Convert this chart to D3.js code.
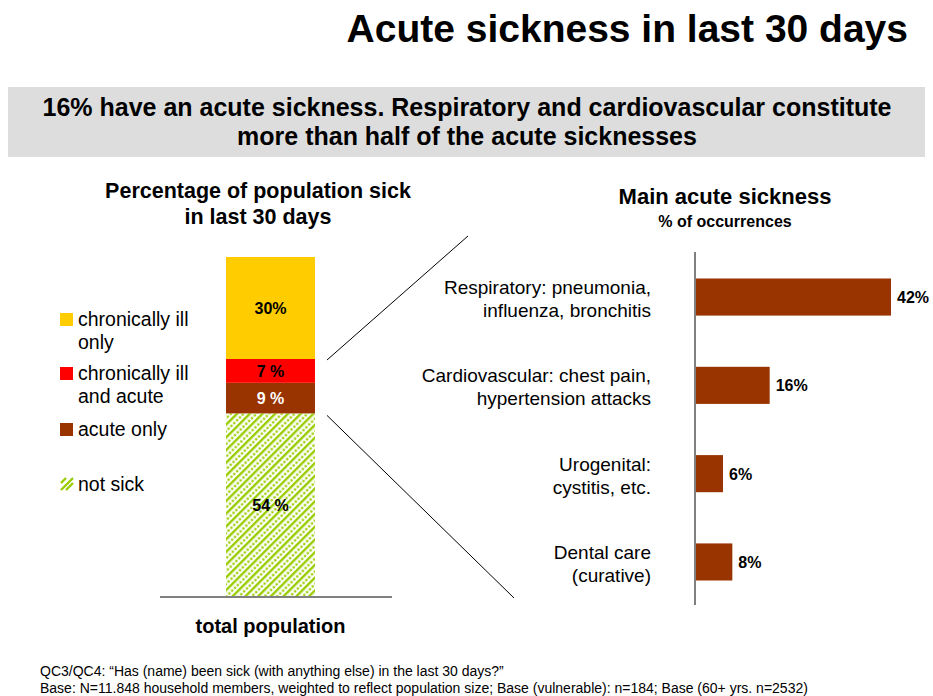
<!DOCTYPE html>
<html>
<head>
<meta charset="utf-8">
<script src="https://cdn.jsdelivr.net/npm/d3@7"></script>
<style>
  html, body { margin: 0; padding: 0; background: #fff; }
  svg { display: block; }
  text { font-family: "Liberation Sans", Arial, Helvetica, sans-serif; }
</style>
</head>
<body>
<svg id="chart" width="933" height="696"></svg>
<script>
// Share of the total population by sickness status (stacked bar, bottom to top)
const statusKeys   = ["not sick", "acute only", "chronically ill and acute", "chronically ill only"];
const statusValues = [54, 9, 7, 30];
const statusLabels = ["54 %", "9 %", "7 %", "30%"];
const statusColors = ["url(#notSick)", "#993300", "#FF0000", "#FFCC00"];
const statusTextColors = ["#000", "#fff", "#000", "#000"];

// Legend entries, top to bottom
const legendKeys  = ["chronically ill only", "chronically ill and acute", "acute only", "not sick"];
const legendLines = [["chronically ill", "only"], ["chronically ill", "and acute"], ["acute only"], ["not sick"]];

// Main acute sickness, % of occurrences
const sicknessCategories = ["Respiratory", "Cardiovascular", "Urogenital", "Dental"];
const sicknessLines = [
  ["Respiratory: pneumonia,", "influenza, bronchitis"],
  ["Cardiovascular: chest pain,", "hypertension attacks"],
  ["Urogenital:", "cystitis, etc."],
  ["Dental care", "(curative)"]
];
const sicknessValues = [42, 16, 6, 8];
const sicknessLabels = ["42%", "16%", "6%", "8%"];

const svg = d3.select("#chart");

// Striped fill for the "not sick" segment: solid stripes alternating with dotted stripes
const defs = svg.append("defs");
const pat = defs.append("pattern")
  .attr("id", "notSick")
  .attr("patternUnits", "userSpaceOnUse")
  .attr("width", 9).attr("height", 8)
  .attr("patternTransform", "rotate(45)");
pat.append("rect").attr("width", 9).attr("height", 8).attr("fill", "#fff");
pat.append("rect").attr("x", 0).attr("y", 0).attr("width", 2.4).attr("height", 8).attr("fill", "#99CC00");
[1.5, 5.5].forEach(cy => pat.append("circle").attr("cx", 5.8).attr("cy", cy).attr("r", 1.3).attr("fill", "#99CC00"));

// ---- Headings ----
svg.append("text")
  .attr("x", 908).attr("y", 42).attr("text-anchor", "end")
  .attr("font-size", 39).attr("font-weight", "bold")
  .text("Acute sickness in last 30 days");

svg.append("rect").attr("x", 8).attr("y", 87).attr("width", 917).attr("height", 70).attr("fill", "#DDDDDD");
const sub = svg.append("text")
  .attr("text-anchor", "middle").attr("font-size", 25).attr("font-weight", "bold");
sub.append("tspan").attr("x", 467).attr("y", 116).text("16% have an acute sickness. Respiratory and cardiovascular constitute");
sub.append("tspan").attr("x", 467).attr("y", 145).text("more than half of the acute sicknesses");

// ---- Left: stacked bar ----
const leftTitle = svg.append("text")
  .attr("text-anchor", "middle").attr("font-size", 21.5).attr("font-weight", "bold");
leftTitle.append("tspan").attr("x", 258).attr("y", 198).text("Percentage of population sick");
leftTitle.append("tspan").attr("x", 258).attr("y", 224).text("in last 30 days");

const yStack = d3.scaleLinear().domain([0, 100]).range([597, 257]);
const xStack = d3.scaleBand().domain(["total population"]).range([160, 381]).paddingInner(0).paddingOuter(0.742);

const stackData = d3.stack().keys(statusKeys)([Object.fromEntries(statusKeys.map((k, i) => [k, statusValues[i]]))]);

const segs = svg.append("g").selectAll("g").data(stackData).join("g");
segs.append("rect")
  .attr("x", xStack("total population"))
  .attr("width", xStack.bandwidth())
  .attr("y", d => yStack(d[0][1]))
  .attr("height", d => yStack(d[0][0]) - yStack(d[0][1]))
  .attr("fill", (d, i) => statusColors[i]);
segs.append("text")
  .attr("x", xStack("total population") + xStack.bandwidth() / 2)
  .attr("y", d => (yStack(d[0][0]) + yStack(d[0][1])) / 2 + 6)
  .attr("text-anchor", "middle")
  .attr("font-size", 16).attr("font-weight", "bold")
  .attr("fill", (d, i) => statusTextColors[i])
  .text((d, i) => statusLabels[i]);

// Baseline and category axis
const xAxis = svg.append("g").attr("transform", "translate(0,597)")
  .call(d3.axisBottom(xStack).tickSize(0).tickPadding(22));
xAxis.select(".domain").attr("stroke", "#808080").attr("stroke-width", 2).attr("d", "M160,0H392");
xAxis.selectAll("text").attr("font-size", 20).attr("font-weight", "bold").attr("fill", "#000")
  .attr("font-family", "Liberation Sans, Arial, sans-serif");

// Legend
const legendY = [326, 380, 436, 491];
const legendColor = d3.scaleOrdinal().domain(statusKeys).range(statusColors);
const leg = svg.append("g").selectAll("g").data(legendKeys).join("g")
  .attr("transform", (d, i) => `translate(60,${legendY[i]})`);
leg.each(function (d, i) {
  const g = d3.select(this);
  if (d === "not sick") {
    g.append("path").attr("d", "M1,-1 L13,-13 M6,-1 L13,-8 M1,-8 L6,-13")
      .attr("stroke", "#99CC00").attr("stroke-width", 2.4).attr("fill", "none");
  } else {
    g.append("rect").attr("x", 0).attr("y", -13).attr("width", 13).attr("height", 13).attr("fill", legendColor(d));
  }
  const t = g.append("text").attr("font-size", 19.5).attr("fill", "#000");
  legendLines[i].forEach((line, j) => t.append("tspan").attr("x", 18).attr("y", j * 23).text(line));
});

// Connector lines from the acute share to the breakdown
svg.append("line").attr("x1", 327).attr("y1", yStack(70) + 1).attr("x2", 468).attr("y2", 236)
  .attr("stroke", "#000").attr("stroke-width", 1);
svg.append("line").attr("x1", 327).attr("y1", yStack(54) + 2).attr("x2", 514).attr("y2", 598)
  .attr("stroke", "#000").attr("stroke-width", 1);

// ---- Right: horizontal bars ----
const rightTitle = svg.append("text").attr("text-anchor", "middle").attr("font-weight", "bold");
rightTitle.append("tspan").attr("x", 725).attr("y", 204).attr("font-size", 22).text("Main acute sickness");
rightTitle.append("tspan").attr("x", 725).attr("y", 227).attr("font-size", 16).text("% of occurrences");

const xBar = d3.scaleLinear().domain([0, 42]).range([695, 891]);
const yBar = d3.scaleBand().domain(sicknessCategories).range([252, 607]).paddingInner(0.58).paddingOuter(0.3);

svg.append("g").selectAll("rect").data(sicknessCategories).join("rect")
  .attr("x", xBar(0))
  .attr("y", d => yBar(d))
  .attr("width", (d, i) => xBar(sicknessValues[i]) - xBar(0))
  .attr("height", yBar.bandwidth())
  .attr("fill", "#993300");

svg.append("g").selectAll("text").data(sicknessCategories).join("text")
  .attr("x", (d, i) => xBar(sicknessValues[i]) + 6)
  .attr("y", d => yBar(d) + yBar.bandwidth() / 2 + 6)
  .attr("font-size", 16).attr("font-weight", "bold")
  .text((d, i) => sicknessLabels[i]);

// Category axis on the left of the bars
const yAxis = svg.append("g").attr("transform", `translate(${xBar(0)},0)`)
  .call(d3.axisLeft(yBar).tickSize(0).tickPadding(44).tickFormat(() => ""));
yAxis.select(".domain").attr("stroke", "#808080").attr("stroke-width", 2).attr("d", "M0,252V605");
yAxis.selectAll(".tick text").each(function (d, i) {
  const t = d3.select(this).attr("font-size", 19).attr("fill", "#000")
    .attr("font-family", "Liberation Sans, Arial, sans-serif").attr("dy", null);
  sicknessLines[i].forEach((line, j) =>
    t.append("tspan").attr("x", -44).attr("y", j === 0 ? -3 : 20).text(line));
});

// ---- Footnote ----
const foot = svg.append("text").attr("font-size", 14).attr("fill", "#000");
foot.append("tspan").attr("x", 40).attr("y", 676).text("QC3/QC4: \u201CHas (name) been sick (with anything else) in the last 30 days?\u201D");
foot.append("tspan").attr("x", 40).attr("y", 693).text("Base: N=11.848 household members, weighted to reflect population size; Base (vulnerable): n=184; Base (60+ yrs. n=2532)");
</script>
</body>
</html>
